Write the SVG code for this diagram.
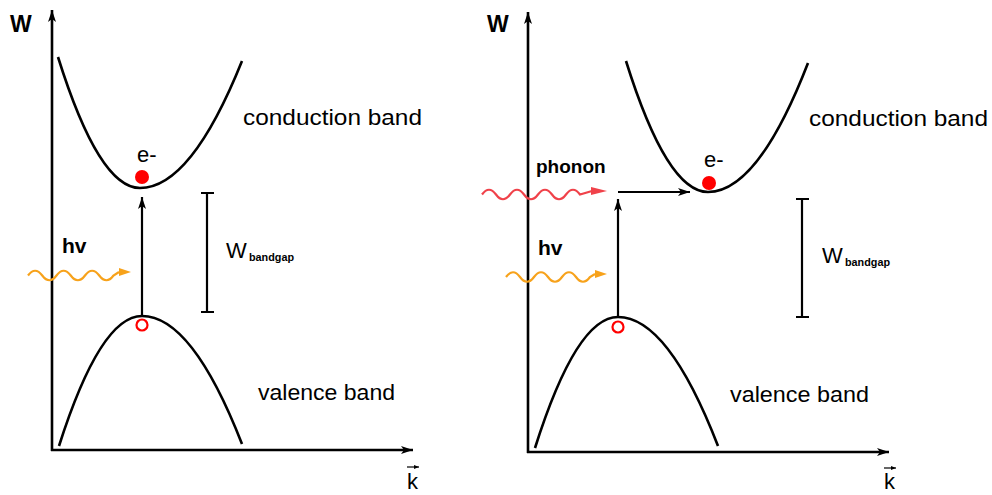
<svg xmlns="http://www.w3.org/2000/svg" width="992" height="495" viewBox="0 0 992 495">
<style>
.ax{stroke:#000;stroke-width:2.6;fill:none}
.band{stroke:#000;stroke-width:2.6;fill:none}
.conn{stroke:#000;stroke-width:2.2;fill:none}
.bar{stroke:#000;stroke-width:2.2;fill:none}
.wo{stroke:#f7a21b;stroke-width:2.2;fill:none}
.wr{stroke:#f0424a;stroke-width:2.2;fill:none}
.t{font-family:"Liberation Sans",Arial,sans-serif;font-size:22px;fill:#000}
.b{font-family:"Liberation Sans",Arial,sans-serif;font-weight:bold;fill:#000}
.sub{font-family:"Liberation Sans",Arial,sans-serif;font-size:11px;font-weight:bold;fill:#000}
</style>
<defs>
<marker id="ah" viewBox="0 0 12 8" refX="12" refY="4" markerWidth="12" markerHeight="8" markerUnits="userSpaceOnUse" orient="auto">
<path d="M0,0 L12,4 L0,8 L3,4 Z" fill="#000"/>
</marker>
<marker id="kh" viewBox="0 0 5 4" refX="5" refY="2" markerWidth="5" markerHeight="4" markerUnits="userSpaceOnUse" orient="auto">
<path d="M0,0 L5,2 L0,4 Z" fill="#000"/>
</marker>
</defs>

<g id="left-axes">
<line class="ax" x1="52" y1="451" x2="52" y2="10" marker-end="url(#ah)"/>
<line class="ax" x1="51" y1="450" x2="413" y2="450" marker-end="url(#ah)"/>
<text class="b" x="10" y="32" font-size="23">W</text>
<text class="t" x="407" y="489" font-size="24">k</text>
<line x1="407" y1="467" x2="419" y2="467" stroke="#000" stroke-width="1.2" marker-end="url(#kh)"/>
</g>

<g id="left-conduction-band">
<path class="band" d="M58,57 Q99,188 140,188 Q191,188 242,61"/>
<text class="t" x="243" y="125" textLength="179" lengthAdjust="spacingAndGlyphs">conduction band</text>
</g>
<g id="left-valence-band">
<path class="band" d="M59,446 Q100.5,316 142,316 Q192,316 242,444"/>
<text class="t" x="258" y="400" textLength="137" lengthAdjust="spacingAndGlyphs">valence band</text>
</g>
<g id="left-electron">
<circle cx="142" cy="177" r="7" fill="#ff0000"/>
<text class="t" x="137" y="162" font-size="23">e-</text>
</g>
<g id="left-hole">
<circle cx="142" cy="325" r="5.5" fill="#fff" stroke="#ff0000" stroke-width="2.2"/>
</g>
<g id="left-bandgap">
<path class="bar" d="M207,193 V312 M201,193 H214 M201,312 H214"/>
<text class="t" x="226" y="258" font-size="23">W<tspan class="sub" x="249" y="261" textLength="45" lengthAdjust="spacingAndGlyphs">bandgap</tspan></text>
</g>
<g id="left-photon">
<path class="wo" d="M28,275.5 q7.1,-9.5 14.25,0 t14.25,0 t14.25,0 t14.25,0 t14.25,0 t14.25,0 L119,272"/>
<path d="M119,268 L131,272 L119,276 Z" fill="#f7a21b"/>
<text class="b" x="62" y="253" font-size="21">hv</text>
</g>

<g id="right-axes">
<line class="ax" x1="528" y1="453" x2="528" y2="12" marker-end="url(#ah)"/>
<line class="ax" x1="527" y1="452" x2="889" y2="452" marker-end="url(#ah)"/>
<text class="b" x="487" y="32" font-size="23">W</text>
<text class="t" x="884" y="489" font-size="24">k</text>
<line x1="884" y1="468" x2="896" y2="468" stroke="#000" stroke-width="1.2" marker-end="url(#kh)"/>
</g>
<g id="right-conduction-band">
<path class="band" d="M626,61 Q667,192 708,192 Q758,192 808,63"/>
<text class="t" x="809" y="126" textLength="179" lengthAdjust="spacingAndGlyphs">conduction band</text>
</g>
<g id="right-valence-band">
<path class="band" d="M535,448 Q576.5,317 618,317 Q668,317 718,446"/>
<text class="t" x="730" y="402" textLength="139" lengthAdjust="spacingAndGlyphs">valence band</text>
</g>
<g id="right-electron">
<circle cx="709" cy="183" r="7" fill="#ff0000"/>
<text class="t" x="704" y="167" font-size="23">e-</text>
</g>
<g id="right-hole">
<circle cx="618" cy="327" r="5.5" fill="#fff" stroke="#ff0000" stroke-width="2.2"/>
</g>
<g id="right-bandgap">
<path class="bar" d="M802,199 V317 M796,199 H809 M796,317 H809"/>
<text class="t" x="822" y="263" font-size="23">W<tspan class="sub" x="845" y="266" textLength="45" lengthAdjust="spacingAndGlyphs">bandgap</tspan></text>
</g>
<g id="right-photon">
<path class="wo" d="M506,277 q7,-9.5 14,0 t14,0 t14,0 t14,0 t14,0 t14,0 L595,274"/>
<path d="M595,270 L607,274 L595,278 Z" fill="#f7a21b"/>
<text class="b" x="538" y="255" font-size="21">hv</text>
</g>
<g id="right-phonon">
<path class="wr" d="M482,194.5 q7,-9.5 14,0 t14,0 t14,0 t14,0 t14,0 t14,0 t14,0 L592,191"/>
<path d="M591,187 L607,191 L591,195 Z" fill="#f0424a"/>
<text class="b" x="536" y="173" font-size="19">phonon</text>
</g>

<g id="connectors">
<line class="conn" x1="142" y1="316" x2="142" y2="197" marker-end="url(#ah)"/>
<line class="conn" x1="618" y1="317" x2="618" y2="199" marker-end="url(#ah)"/>
<line class="conn" x1="618" y1="192" x2="690" y2="192" marker-end="url(#ah)"/>
</g>
</svg>
